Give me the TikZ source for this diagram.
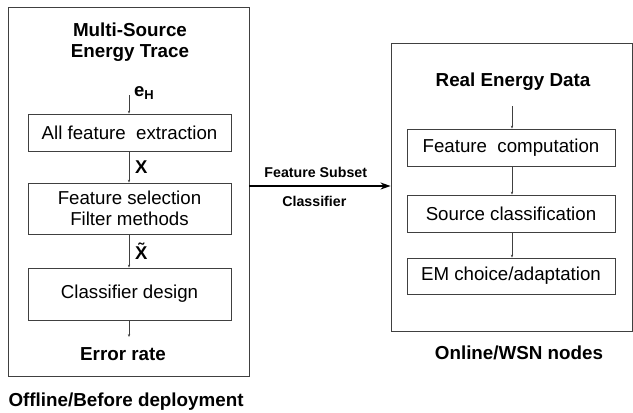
\documentclass[tikz,border=0pt]{standalone}
\usepackage{fontspec}
\setmainfont{Liberation Sans}
\usetikzlibrary{arrows.meta,positioning}

\begin{document}
\begin{tikzpicture}[x=1pt,y=-1pt]

  \tikzset{
    panel/.style={draw=black!75, line width=0.9pt, inner sep=0pt},
    stage/.style={draw=black!75, line width=0.8pt, inner sep=0pt,
      align=center, font=\fontsize{18.7}{21}\selectfont},
    heading/.style={align=center, font=\fontsize{18.8}{21}\selectfont\bfseries},
    sym/.style={font=\fontsize{18.5}{21}\selectfont\bfseries, inner sep=0pt},
    flow/.style={draw=black!75, line width=0.5pt, -{Stealth[length=3pt,width=2.4pt]}},
    link/.style={draw=black, line width=1.2pt, -{Stealth[length=10pt,width=7pt]}},
    linklabel/.style={font=\fontsize{14.2}{16}\selectfont\bfseries},
  }

  \useasboundingbox (0,0) rectangle (633,413);

  % offline part
  \node[panel, minimum width=241pt, minimum height=369pt] (offline) at (128.5,191.5) {};
  \node[heading] (trace) at (130,42.5) {Multi-Source\\Energy Trace};
  \coordinate (tracein) at (129,95);
  \node[stage, minimum width=203pt, minimum height=37pt] (extract) at (129.5,132.5) {All feature\ \ extraction};
  \node[stage, minimum width=203pt, minimum height=51pt] (select) at (129.5,208.5) {Feature selection\\Filter methods};
  \node[stage, minimum width=203pt, minimum height=52pt] (design) at (129.5,294) {Classifier design};
  \coordinate (designout) at (129,337);
  \node[heading] (error) at (123,354) {Error rate};
  \node[heading, anchor=west] (offlinelabel) at (5,402) {Offline/Before deployment};

  \draw[flow] (tracein) -- (extract.north -| tracein);
  \draw[flow] (extract.south -| tracein) -- (select.north -| tracein);
  \draw[flow] (select.south -| tracein) -- (design.north -| tracein);
  \draw[flow] (design.south -| tracein) -- (designout);

  \node[sym, anchor=west] (eh) at (134,93) {e\textsubscript{H}};
  \node[sym, anchor=west] (xall) at (135,167) {X};
  \node[sym, anchor=west] (xsub) at (135,251) {\~{X}};

  % online part
  \node[panel, minimum width=241pt, minimum height=288pt] (online) at (511.5,187) {};
  \node[heading] (realdata) at (513,82) {Real Energy Data};
  \coordinate (datain) at (512,106);
  \node[stage, minimum width=208pt, minimum height=37pt] (compute) at (511,147.5) {Feature\ \ computation};
  \node[stage, minimum width=208pt, minimum height=37pt] (classify) at (511,213.5) {Source classification};
  \node[stage, minimum width=208pt, minimum height=36pt] (adapt) at (511,276) {EM choice/adaptation};
  \node[heading] (onlinelabel) at (519,353) {Online/WSN nodes};

  \draw[flow] (datain) -- (compute.north -| datain);
  \draw[flow] (compute.south -| datain) -- (classify.north -| datain);
  \draw[flow] (classify.south -| datain) -- (adapt.north -| datain);

  \draw[link] (offline.east |- 0,186) -- node[linklabel, pos=0.47, above=4pt] {Feature Subset}
    node[linklabel, pos=0.46, below=6pt] {Classifier} (online.west |- 0,186);

\end{tikzpicture}
\end{document}
